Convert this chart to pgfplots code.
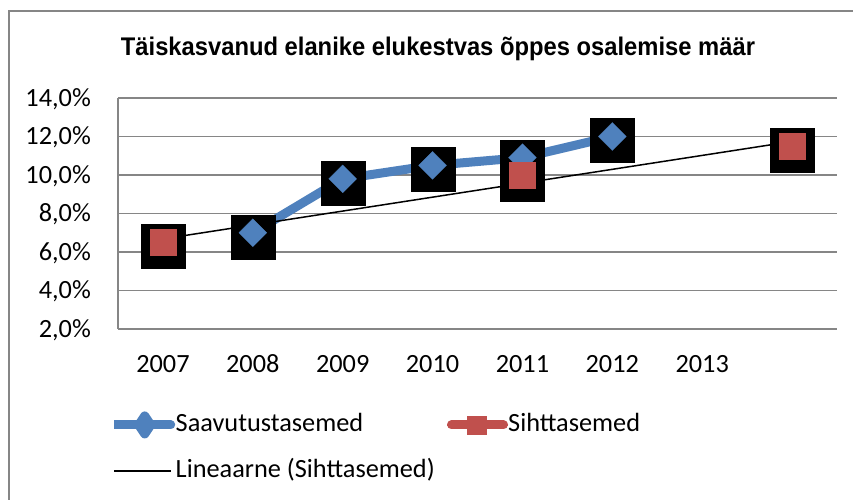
\documentclass[border=0pt]{standalone}
\usepackage{pgfplots}
\pgfplotsset{compat=1.18}
\usepackage{pgfplotstable}
\usepackage{fontspec}
\setmainfont{Carlito}
\newfontfamily\titlefont{Liberation Sans}
\definecolor{blueC}{HTML}{4F81BD}
\definecolor{redC}{HTML}{C0504D}
\definecolor{gridC}{HTML}{868686}

\pgfplotstableread{
x y
1 7.0
2 9.8
3 10.5
4 10.9
5 12.0
}\saav
\pgfplotstableread{
x y
0 6.5
4 10.0
7 11.5
}\siht
\pgfplotstableread{
x y
0 6.68
7 11.74
}\trend

\begin{document}
\begin{tikzpicture}[x=1pt,y=1pt]
\useasboundingbox (0,0) rectangle (853,500);
\fill[white] (0,0) rectangle (853,500);
\draw[gridC, line width=1.3pt] (9,-5) -- (9,489) -- (860,489);
\node[anchor=base, inner sep=0pt] at (438,444.3) {\resizebox{634pt}{18.5pt}{\titlefont\bfseries Täiskasvanud elanike elukestvas õppes osalemise määr}};
\begin{axis}[
 at={(118pt,171pt)}, anchor=south west,
 scale only axis, width=719pt, height=231pt,
 xmin=-0.5, xmax=7.5, ymin=2, ymax=14,
 clip=false,
 xtick={0,...,7}, xticklabels={2007,2008,2009,2010,2011,2012,2013,{}},
 ytick={2,4,...,14},
 /pgf/number format/assume math mode=true,
 yticklabel={\pgfmathprintnumber[fixed,fixed zerofill,precision=1,use comma]{\tick}\%},
 ymajorgrids, grid style={gridC, line width=1.3pt},
 axis x line*=bottom, axis y line*=left,
 axis line style={gridC, line width=1.3pt},
 major tick length=0pt, tick style={draw=none},
 tick label style={font=\fontsize{26.3}{31}\selectfont},
 yticklabel style={anchor=base east, inner sep=0pt, xshift=-27pt, yshift=-8.5pt},
 xticklabel style={anchor=base, inner sep=0pt, yshift=-43.5pt},
 legend columns=2,
 legend cell align=left,
 legend style={at={(-0.0118,-0.356)}, anchor=north west, draw=none, fill=none,
   inner sep=0pt, font=\fontsize{26.3}{31}\selectfont,
   nodes={inner sep=0pt, text height=19pt, text depth=6pt},
   row sep=20pt,
   /tikz/every even column/.append style={column sep=12pt}},
]
\addplot[only marks, mark=square*, mark size=22pt, black, mark options={yshift=-4pt, line width=0.1pt}, forget plot] table {\saav};
\addplot[only marks, mark=square*, mark size=22pt, black, mark options={yshift=-4pt, line width=0.1pt}, forget plot] table {\siht};
\addplot[blueC, line width=9pt, line join=round, mark=square*, mark size=9.9pt,
  mark options={rotate=45, line width=0.1pt},
  legend image code/.code={
    \draw[blueC, line width=9pt, line cap=round] (4.5pt,0pt) -- (56.5pt,0pt);
    \fill[blueC] (30.5pt,-9pt) -- (36.5pt,0pt) -- (30.5pt,9pt) -- (24.5pt,0pt) -- cycle;
    \path (0pt,0pt) -- (57pt,0pt);}] table {\saav};
\addlegendentry{Saavutustasemed}
\addplot[only marks, redC, mark=square*, mark size=13pt, mark options={line width=0.1pt},
  legend image code/.code={
    \draw[redC, line width=9pt, line cap=round] (4.5pt,0pt) -- (56.5pt,0pt);
    \fill[redC] (20pt,-9pt) rectangle (39pt,9pt);
    \path (0pt,0pt) -- (61pt,0pt);}] table {\siht};
\addlegendentry{Sihttasemed}
\addplot[black, line width=1.5pt,
  legend image code/.code={
    \draw[black, line width=1.5pt] (5pt,0pt) -- (55pt,0pt);
    \path (0pt,0pt) -- (57pt,0pt);}] table {\trend};
\addlegendentry{Lineaarne (Sihttasemed)}
\end{axis}
\end{tikzpicture}
\end{document}
